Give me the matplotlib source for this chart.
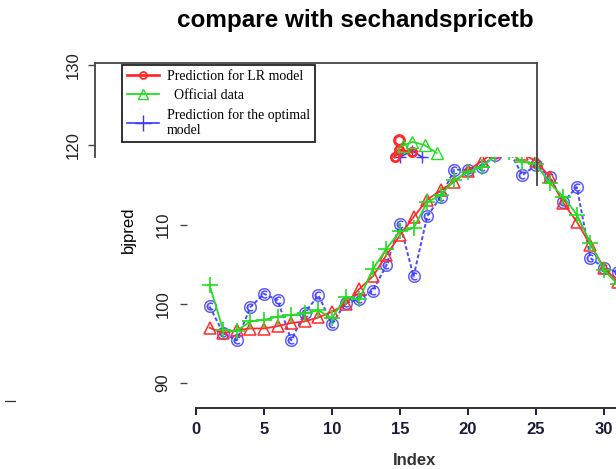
import matplotlib
matplotlib.use("Agg")
from matplotlib import pyplot as plt
from matplotlib.lines import Line2D

# index of each observation
idx = list(range(1, 32))

lr_pred = [97.0, 96.3, 96.7, 96.9, 96.9, 97.2, 97.6, 97.8, 98.3, 99.0,
           100.0, 101.9, 103.5, 106.2, 108.7, 111.0, 113.2, 114.4, 115.5, 116.9,
           118.1, 119.3, 119.6, 119.0, 118.1, 116.1, 112.8, 110.4, 107.5, 104.6, 102.8]
official = [102.4, 96.7, 96.6, 97.8, 98.0, 98.4, 98.6, 98.8, 99.2, 98.2,
            100.9, 100.6, 104.4, 107.0, 109.2, 109.6, 112.9, 113.8, 115.7, 116.7,
            117.3, 118.8, 119.2, 118.0, 117.7, 115.3, 113.6, 111.3, 107.7, 104.3, 102.5]
opt_pred = [99.7, 96.3, 95.4, 99.6, 101.3, 100.5, 95.4, 98.9, 101.1, 97.5,
            100.1, 100.6, 101.7, 104.9, 110.1, 103.5, 111.1, 113.6, 117.0, 117.0,
            117.4, 118.9, 119.5, 116.3, 117.6, 116.1, 112.9, 114.8, 105.8, 104.6, 104.0]

# stray fragment drawn inside the upper frame
frag_green_x = [15.2, 15.9, 16.8, 17.7]
frag_green = [119.9, 120.4, 120.0, 119.0]
frag_red_x = [14.6, 14.9, 15.9]
frag_red = [118.5, 119.4, 119.1]
frag_blue_x = [15.0, 15.9, 16.6]
frag_blue = [118.5, 119.3, 118.5]

RED = "#ff2b2b"
GREEN = "#22dd22"
BLUE = "#3838ff"
TICKC = "#1c1c3a"

fig = plt.figure(figsize=(6.16, 4.69), dpi=100)

# lower plotting region
ax = fig.add_axes([190 / 616, 69 / 469, 426 / 616, 243 / 469])
ax.set_facecolor("none")
ax.plot(idx, opt_pred, color=BLUE, linestyle=(0, (2, 1.2)), linewidth=1.4,
        marker="$©$", markersize=9, markeredgewidth=0.3, zorder=2, alpha=0.9)
ax.plot(idx, lr_pred, color=RED, linewidth=1.3, marker="^", markersize=8,
        markerfacecolor="none", markeredgewidth=1.1, zorder=3)
ax.plot(idx, official, color=GREEN, linewidth=1.3, marker="+", markersize=11,
        markeredgewidth=1.2, zorder=4)
ax.set_xlim(-0.44, 30.88)
ax.set_ylim(87.85, 118.61)
for s in ["top", "right", "left"]:
    ax.spines[s].set_visible(False)
ax.spines["bottom"].set_position(("outward", 5.8))
ax.spines["bottom"].set_bounds(0, 31)
ax.spines["bottom"].set_linewidth(1.4)
ax.spines["bottom"].set_color("#333333")
ax.spines["left"].set_position(("outward", 2))
ax.set_xticks([0, 5, 10, 15, 20, 25, 30])
ax.set_yticks([90, 100, 110])
ax.tick_params(axis="x", length=5, width=1.4, color=TICKC, pad=5,
               labelsize=12, labelcolor=TICKC)
ax.tick_params(axis="y", length=5, width=1.0, color="#444444", pad=7,
               labelsize=12, labelcolor="#222222", labelrotation=90)
for lab in ax.get_xticklabels() + ax.get_yticklabels():
    lab.set_family("Liberation Sans")
    lab.set_fontweight("bold")
for lab in ax.get_yticklabels():
    lab.set_fontweight("normal")
    lab.set_verticalalignment("center")

# upper frame
ax2 = fig.add_axes([95 / 616, 284 / 469, 442 / 616, 122 / 469])
ax2.set_facecolor("none")
ax2.plot(frag_blue_x, frag_blue, color=BLUE, linewidth=1.2, marker="+", markersize=9)
ax2.plot(frag_red_x, frag_red, color=RED, linewidth=2, marker="o", markersize=6,
         markerfacecolor="none", markeredgewidth=2)
ax2.plot([14.9], [120.6], color=RED, marker="o", markersize=7,
         markerfacecolor="none", markeredgewidth=2.2, linestyle="none")
ax2.plot(frag_green_x, frag_green, color=GREEN, linewidth=1.2, marker="^",
         markersize=8, markerfacecolor="none")
ax2.set_xlim(-7.43, 25.07)
ax2.set_ylim(115.0, 130.25)
ax2.spines["bottom"].set_visible(False)
ax2.spines["left"].set_bounds(118.5, 130.25)
for s in ["top", "right", "left"]:
    ax2.spines[s].set_linewidth(1.3)
    ax2.spines[s].set_color("#444444")
ax2.set_xticks([])
ax2.set_yticks([120, 130])
ax2.tick_params(axis="y", length=5, width=1.0, color="#444444", pad=5,
                labelsize=12, labelcolor="#222222", labelrotation=90)
for lab in ax2.get_yticklabels():
    lab.set_family("Liberation Sans")
    lab.set_verticalalignment("center")

handles = [
    Line2D([], [], color=RED, linewidth=2, marker="o", markersize=5,
           markerfacecolor="none", markeredgewidth=1.3),
    Line2D([], [], color=GREEN, linewidth=1.3, marker="^", markersize=7,
           markerfacecolor="none"),
    Line2D([], [], color=BLUE, linewidth=1.2, marker="+", markersize=11),
]
labels = ["Prediction for LR model", "  Official data",
          "Prediction for the optimal\nmodel"]
leg = fig.legend(handles, labels, loc="upper left",
                 bbox_to_anchor=(122 / 616, (469 - 65) / 469),
                 prop={"family": "Liberation Serif", "size": 10},
                 fancybox=False, edgecolor="#222222", framealpha=1,
                 borderaxespad=0, handlelength=2.3, labelspacing=0.45,
                 borderpad=0.35, handletextpad=0.6)
leg.get_frame().set_linewidth(1.3)

fig.text(355 / 616, (469 - 20) / 469, "compare with sechandspricetb",
         ha="center", va="center", fontsize=17.5, fontweight="bold",
         family="Liberation Sans")
fig.text(128 / 616, (469 - 230) / 469, "bjpred", rotation=90, ha="center",
         va="center", fontsize=12, family="Liberation Sans")
fig.text(415 / 616, (469 - 460) / 469, "Index", ha="center", va="center",
         fontsize=12, fontweight="bold", family="Liberation Sans", color="#333333")
fig.text(12 / 616, (469 - 400) / 469, "l", rotation=90, ha="center",
         va="center", fontsize=10, family="Liberation Sans", color="#333333")

fig.savefig("out.png", dpi=100)
